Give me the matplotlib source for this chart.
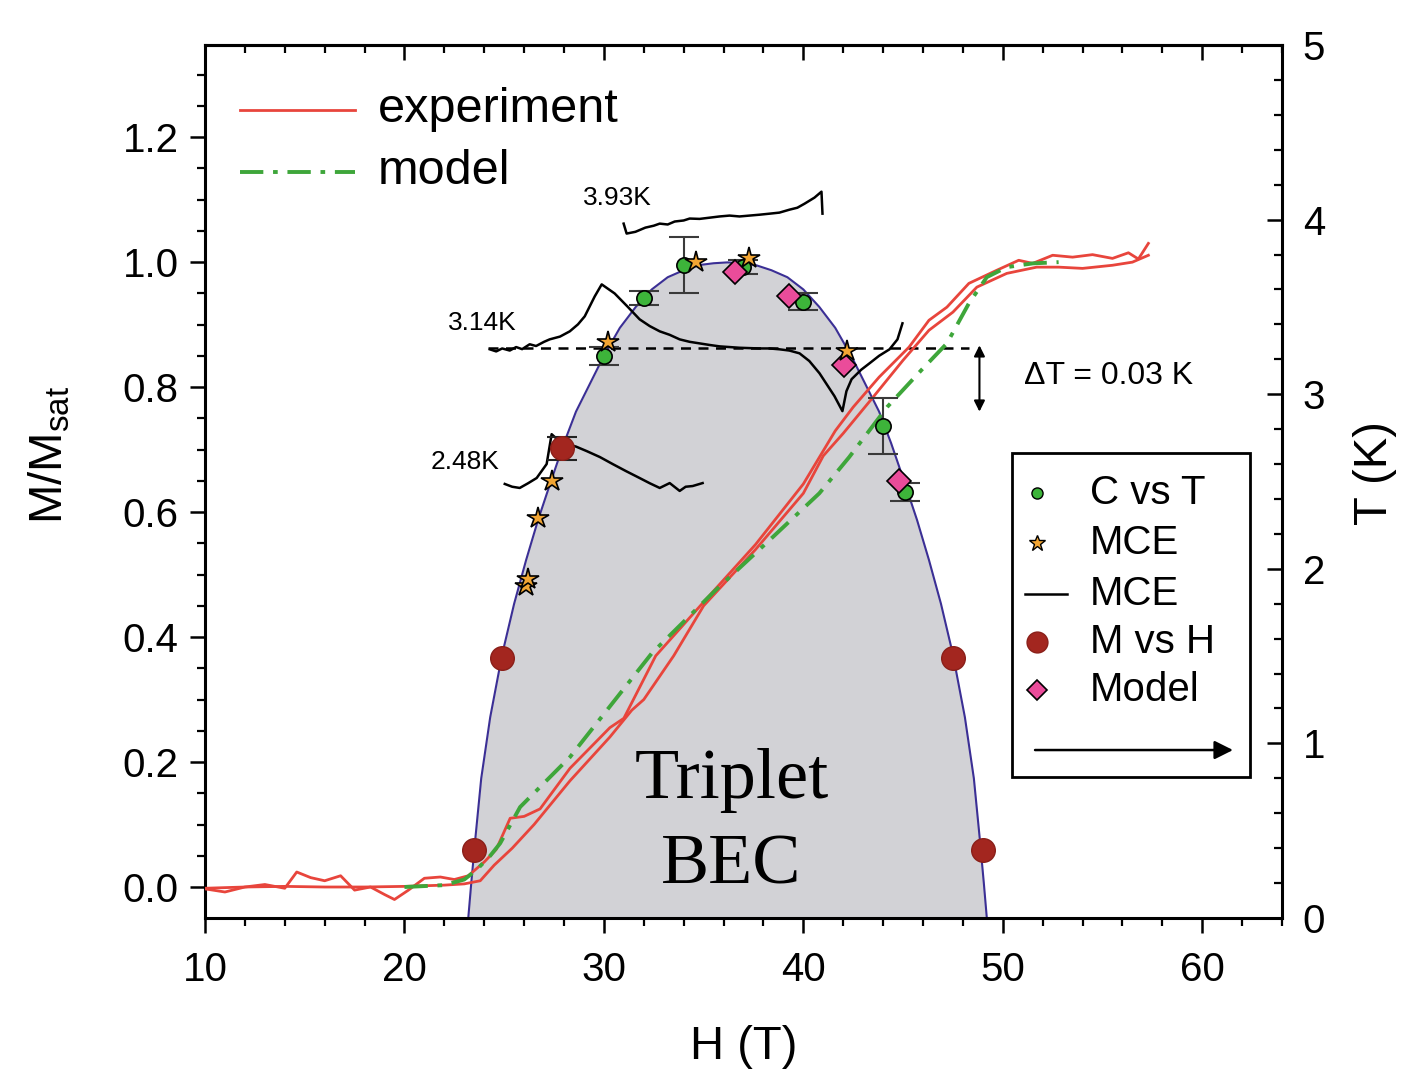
import matplotlib
matplotlib.use('Agg')
import matplotlib.pyplot as plt
from matplotlib.ticker import MultipleLocator
from matplotlib.patches import Rectangle

plt.rcParams['font.family'] = ['Liberation Sans', 'DejaVu Sans']
plt.rcParams['mathtext.fontset'] = 'custom'
plt.rcParams['mathtext.rm'] = 'Liberation Sans'
plt.rcParams['mathtext.it'] = 'Liberation Sans:italic'

# ---------------- data ----------------
# experiment, branch 1 (M/Msat vs H)
exp1_H = [10, 11, 12, 13, 14, 14.6, 15.3, 16, 16.8, 17.5, 18.3, 19, 19.5, 20.2, 21, 21.8, 22.5,
          23.2, 24.0, 24.6, 25.3, 26.0, 26.8, 28.3, 30.3, 31.0, 32.6, 35.0, 37.6, 40.0, 41.6,
          42.5, 43.8, 45.3, 46.3, 47.2, 48.3, 49.7, 50.8, 51.5, 52.5, 53.5, 54.5, 55.5, 56.3,
          56.8, 57.3]
exp1_M = [-0.003, -0.008, 0.0, 0.004, -0.002, 0.024, 0.015, 0.010, 0.018, -0.005, 0.0, -0.012,
          -0.020, -0.005, 0.014, 0.016, 0.012, 0.018, 0.040, 0.060, 0.110, 0.113, 0.125, 0.190,
          0.255, 0.270, 0.370, 0.456, 0.548, 0.645, 0.730, 0.768, 0.816, 0.864, 0.907, 0.928,
          0.966, 0.987, 1.003, 0.998, 1.011, 1.008, 1.012, 1.006, 1.015, 1.005, 1.030]
# experiment, branch 2
exp2_H = [10, 12, 14, 16, 18, 20, 22, 23.0, 23.8, 24.5, 25.4, 26.5, 28.3, 30.3, 31.4, 32.0,
          33.5, 35.0, 37.6, 40.0, 41.0, 42.0, 43.5, 45.0, 46.3, 47.5, 48.7, 50.2, 51.7, 52.8,
          54.0, 55.5, 56.5, 57.3]
exp2_M = [-0.002, 0.0, 0.001, 0.0, 0.0, 0.001, 0.003, 0.005, 0.010, 0.035, 0.062, 0.100,
          0.170, 0.240, 0.283, 0.300, 0.370, 0.450, 0.540, 0.630, 0.690, 0.726, 0.784, 0.843,
          0.891, 0.920, 0.960, 0.982, 0.992, 0.992, 0.990, 0.995, 1.000, 1.011]
# model
model_H = [20.0, 22.0, 23.0, 23.6, 24.3, 24.8, 25.8, 28.3, 32.4, 35.6, 38.3, 40.8, 42.3, 44.2,
           46.0, 47.2, 48.3, 49.2, 50.2, 51.5, 52.8]
model_M = [0.0, 0.003, 0.012, 0.027, 0.050, 0.070, 0.128, 0.208, 0.374, 0.475, 0.555, 0.630,
           0.688, 0.768, 0.830, 0.870, 0.934, 0.976, 0.992, 0.998, 1.000]

# BEC phase boundary T(H)
dome_H = [23.2, 23.35, 23.55, 23.85, 24.3, 24.9, 25.5, 26.1, 26.7, 27.4, 28.0, 28.6, 29.3, 30.0,
          30.8, 31.6, 32.4, 33.2, 34.0, 34.8, 35.5, 36.2, 36.9, 37.6, 38.4, 39.2, 40.0, 40.8,
          41.6, 42.4, 43.1, 43.8, 44.4, 45.0, 45.7, 46.3, 46.9, 47.5, 48.1, 48.55, 48.85, 49.05,
          49.2]
dome_T = [0.0, 0.2, 0.45, 0.8, 1.15, 1.51, 1.8, 2.05, 2.28, 2.52, 2.72, 2.9, 3.06, 3.22, 3.38,
          3.5, 3.6, 3.67, 3.71, 3.74, 3.75, 3.755, 3.75, 3.74, 3.71, 3.67, 3.6, 3.5, 3.38, 3.22,
          3.06, 2.9, 2.72, 2.52, 2.28, 2.05, 1.8, 1.51, 1.15, 0.8, 0.45, 0.2, 0.0]

# C vs T points
cvt_H = [30.0, 32.0, 34.0, 37.0, 40.0, 44.0, 45.1]
cvt_T = [3.22, 3.55, 3.74, 3.73, 3.53, 2.82, 2.44]
cvt_err = [0.05, 0.04, 0.16, 0.04, 0.05, 0.16, 0.05]
# MCE points
mce_H = [26.1, 26.2, 26.7, 27.4, 30.2, 34.6, 37.3, 42.2]
mce_T = [1.90, 1.94, 2.29, 2.50, 3.30, 3.76, 3.78, 3.25]
# M vs H points
mvh_H = [23.5, 24.9, 27.9, 47.5, 49.0]
mvh_T = [0.39, 1.49, 2.69, 1.49, 0.39]
# M vs H point with error bar
mvhe_H = [27.9]
mvhe_T = [2.69]
mvhe_err = [0.065]
# Model points
modp_H = [36.55, 39.26, 42.06, 44.82]
modp_T = [3.70, 3.56, 3.17, 2.50]

# MCE traces
tr393_H = [30.99, 31.14, 31.58, 32.08, 32.50, 32.80, 33.20, 33.55, 34.0, 34.30, 34.8, 35.30,
           35.8, 36.30, 36.8, 37.30, 37.8, 38.31, 38.8, 39.31, 39.7, 40.06, 40.56, 40.91, 40.96]
tr393_T = [3.977, 3.920, 3.930, 3.954, 3.965, 3.977, 3.972, 3.989, 3.995, 4.006, 4.004, 4.011,
           4.018, 4.023, 4.018, 4.023, 4.028, 4.034, 4.040, 4.057, 4.068, 4.091, 4.126, 4.160,
           4.034]
tr314_H = [24.28, 24.6, 24.9, 25.28, 25.6, 25.9, 26.28, 26.6, 27.0, 27.28, 27.8, 28.29, 28.7,
           29.04, 29.54, 29.89, 30.54, 31.2, 31.79, 32.3, 32.80, 33.3, 33.80, 34.3, 34.80, 35.3,
           35.80, 36.3, 36.80, 37.3, 37.80, 38.3, 38.81, 39.3, 39.81, 40.3, 40.81, 41.56, 41.96,
           42.16, 42.42, 42.9, 43.32, 43.8, 44.32, 44.72, 44.97]
tr314_T = [3.257, 3.245, 3.262, 3.250, 3.270, 3.258, 3.286, 3.276, 3.300, 3.314, 3.330, 3.360,
           3.400, 3.446, 3.560, 3.629, 3.577, 3.500, 3.429, 3.390, 3.360, 3.340, 3.314, 3.300,
           3.291, 3.282, 3.274, 3.270, 3.266, 3.264, 3.262, 3.262, 3.257, 3.250, 3.234, 3.190,
           3.120, 2.989, 2.903, 3.017, 3.086, 3.140, 3.177, 3.220, 3.257, 3.314, 3.406]
tr248_H = [25.03, 25.4, 25.78, 26.2, 26.63, 27.13, 27.38, 27.59, 28.14, 28.6, 29.14, 29.8,
           30.44, 31.1, 31.79, 32.3, 32.80, 33.30, 33.80, 34.10, 34.45, 34.95]
tr248_T = [2.486, 2.470, 2.463, 2.490, 2.520, 2.600, 2.771, 2.749, 2.714, 2.700, 2.674, 2.640,
           2.600, 2.560, 2.520, 2.490, 2.463, 2.491, 2.446, 2.470, 2.474, 2.491]
ref_H = [24.2, 48.3]
ref_T = [3.263, 3.263]

# ---------------- figure ----------------
fig = plt.figure(figsize=(14.08, 10.8), dpi=100)
rect = [205/1408, 1 - 918/1080, (1282-205)/1408, (918-45)/1080]
axM = fig.add_axes(rect)
axT = axM.twinx()
axP = axM.twinx()
axT.set_zorder(0)
axM.set_zorder(1)
axP.set_zorder(2)
axM.patch.set_visible(False)

for a in (axM, axT, axP):
    a.set_xlim(10, 64)
axM.set_ylim(-0.0496, 1.3475)
axT.set_ylim(0, 5)
axP.set_ylim(0, 5)
axP.set_axis_off()

# dome (bottom layer)
axT.fill_between(dome_H, dome_T, 0, color='#d2d2d6', lw=0, zorder=1)
axT.plot(dome_H, dome_T, color='#3b2f95', lw=1.5, zorder=2)
# MCE traces
for h, t in ((tr393_H, tr393_T), (tr314_H, tr314_T), (tr248_H, tr248_T)):
    axT.plot(h, t, color='black', lw=1.8, zorder=3)
axT.plot(ref_H, ref_T, color='black', lw=1.8, ls=(0, (4, 3)), zorder=3)

# magnetisation curves
red = '#e8453c'
green = '#3ea63a'
axM.plot(exp1_H, exp1_M, color=red, lw=2.0, zorder=3)
axM.plot(exp2_H, exp2_M, color=red, lw=2.0, zorder=3)
axM.plot(model_H, model_M, color=green, lw=2.8, ls=(0, (6, 2.5, 1.2, 2.5)), zorder=4)

# points (top layer)
axP.errorbar(cvt_H, cvt_T, yerr=cvt_err, fmt='none', ecolor='#3a3a3a', elinewidth=1.5,
             capsize=11, capthick=1.5, zorder=4)
axP.errorbar(mvhe_H, mvhe_T, yerr=mvhe_err, fmt='none', ecolor='#222222', elinewidth=1.5,
             capsize=11, capthick=1.5, zorder=4)
axP.plot(mvh_H, mvh_T, 'o', ms=17, mfc='#a3261f', mec='#8a1f19', mew=1, zorder=5)
axP.plot(cvt_H, cvt_T, 'o', ms=11, mfc='#3db43a', mec='black', mew=1.2, zorder=6)
axP.plot(modp_H, modp_T, 'D', ms=12, mfc='#ea4c9a', mec='black', mew=1.2, zorder=6)
axP.plot(mce_H, mce_T, '*', ms=16, mfc='#f2a533', mec='black', mew=1.2, zorder=7)

# annotations
axP.text(30.69, 4.126, '3.93K', fontsize=19, ha='center', va='center')
axP.text(23.88, 3.406, '3.14K', fontsize=19, ha='center', va='center')
axP.text(23.03, 2.611, '2.48K', fontsize=19, ha='center', va='center')
axP.text(51.08, 3.103, '\u0394T = 0.03 K', fontsize=23, ha='left', va='center')
axP.annotate('', xy=(48.83, 2.90), xytext=(48.83, 3.28),
             arrowprops=dict(arrowstyle='<|-|>', color='black', lw=1.5, mutation_scale=16,
                             shrinkA=0, shrinkB=0))
axP.text(0.489, 0.158, 'Triplet', transform=axP.transAxes, fontsize=52,
         family='Liberation Serif', ha='center', va='center')
axP.text(0.489, 0.060, 'BEC', transform=axP.transAxes, fontsize=52,
         family='Liberation Serif', ha='center', va='center')

# top-left legend (manual)
tr = axP.transAxes
axP.plot([0.0325, 0.139], [0.926, 0.926], color=red, lw=2.0, transform=tr, clip_on=False)
axP.plot([0.0325, 0.139], [0.855, 0.855], color=green, lw=2.8, ls=(0, (6, 2.5, 1.2, 2.5)),
         transform=tr, clip_on=False)
axP.text(0.1606, 0.926, 'experiment', fontsize=35, transform=tr, ha='left', va='center')
axP.text(0.1606, 0.855, 'model', fontsize=35, transform=tr, ha='left', va='center')

# right legend box (manual)
axP.add_patch(Rectangle((0.749, 0.1615), 0.221, 0.3715, transform=tr, fill=False,
                        ec='black', lw=2, zorder=8, clip_on=False))
mx, tx = 0.7725, 0.8217
rows = [0.4868, 0.4296, 0.3711, 0.3162, 0.2612]
labels = ['C vs T', 'MCE', 'MCE', 'M vs H', 'Model']
axP.plot([mx], [rows[0]], 'o', ms=8, mfc='#3db43a', mec='black', mew=1, transform=tr,
         clip_on=False, zorder=9)
axP.plot([mx], [rows[1]], '*', ms=12, mfc='#f2a533', mec='black', mew=1, transform=tr,
         clip_on=False, zorder=9)
axP.plot([0.761, 0.800], [rows[2], rows[2]], color='black', lw=1.8, transform=tr,
         clip_on=False, zorder=9)
axP.plot([mx], [rows[3]], 'o', ms=15, mfc='#a3261f', mec='#8a1f19', mew=1, transform=tr,
         clip_on=False, zorder=9)
axP.plot([mx], [rows[4]], 'D', ms=10, mfc='#ea4c9a', mec='black', mew=1.2, transform=tr,
         clip_on=False, zorder=9)
for y, lab in zip(rows, labels):
    axP.text(tx, y, lab, fontsize=29, transform=tr, ha='left', va='center', zorder=9)
axP.annotate('', xy=(0.9545, 0.1924), xytext=(0.7707, 0.1924), xycoords=tr, textcoords=tr,
             arrowprops=dict(arrowstyle='-|>', color='black', lw=1.8, mutation_scale=28,
                             shrinkA=0, shrinkB=0), zorder=9)

# ---------------- axes styling ----------------
for s in axM.spines.values():
    s.set_linewidth(2.2)
for s in axT.spines.values():
    s.set_visible(False)

axM.xaxis.set_major_locator(MultipleLocator(10))
axM.xaxis.set_minor_locator(MultipleLocator(2))
axM.yaxis.set_major_locator(MultipleLocator(0.2))
axM.yaxis.set_minor_locator(MultipleLocator(0.05))
axM.yaxis.set_major_formatter(matplotlib.ticker.FormatStrFormatter('%.1f'))
axM.tick_params(which='major', direction='out', length=11, width=1.8, labelsize=29, pad=8)
axM.tick_params(which='minor', direction='out', length=6, width=1.6)
axM.tick_params(axis='x', which='major', pad=13)
axM.tick_params(axis='y', right=False)

top = axM.secondary_xaxis('top')
top.xaxis.set_major_locator(MultipleLocator(10))
top.xaxis.set_minor_locator(MultipleLocator(2))
top.tick_params(which='major', direction='in', length=11, width=1.8, labeltop=False)
top.tick_params(which='minor', direction='in', length=6, width=1.6)
top.spines['top'].set_linewidth(2.2)

axT.yaxis.set_major_locator(MultipleLocator(1))
axT.yaxis.set_minor_locator(MultipleLocator(0.2))
axT.tick_params(axis='y', which='major', direction='in', length=11, width=1.8, labelsize=29,
                pad=15)
axT.tick_params(axis='y', which='minor', direction='in', length=6, width=1.6)

axM.set_xlabel('H (T)', fontsize=34)
axM.xaxis.set_label_coords(0.5, -0.122)
axM.set_ylabel(r'M/M$_\mathrm{sat}$', fontsize=34)
axM.yaxis.set_label_coords(-0.123, 0.53)
axT.set_ylabel('T (K)', fontsize=34)
axT.yaxis.set_label_coords(1.066, 0.51)

fig.savefig('out.png', dpi=100)
